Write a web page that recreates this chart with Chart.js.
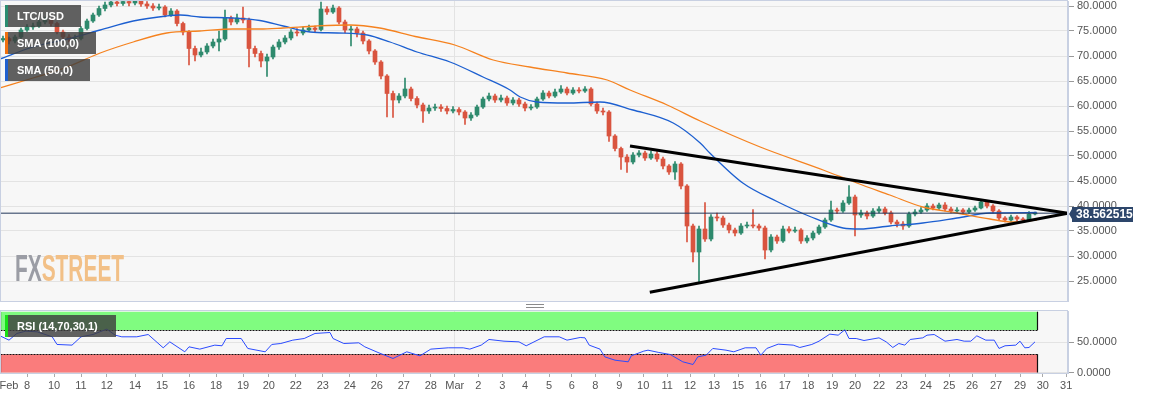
<!DOCTYPE html>
<html>
<head>
<meta charset="utf-8">
<script src="https://cdn.jsdelivr.net/npm/chart.js@4.4.1/dist/chart.umd.min.js"></script>
<style>
body{margin:0;background:#fff;}
#wrap{position:relative;width:1153px;height:399px;overflow:hidden;font-family:'Liberation Sans',Arial,sans-serif;}
#mainBox{position:absolute;left:0;top:0;width:1153px;height:302px;}
#rsiBox{position:absolute;left:0;top:303px;width:1153px;height:96px;}
.tag{position:absolute;left:5px;height:22px;line-height:22px;box-sizing:border-box;padding-left:9px;
  background:rgba(62,62,62,0.82);color:#fff;font-size:11px;font-weight:bold;border-left:3px solid #2a8c70;white-space:nowrap;}
.grip{position:absolute;left:526px;top:304px;width:18px;height:2px;border-top:1px solid #8a8a8a;border-bottom:1px solid #8a8a8a;}
.mark{position:absolute;left:15px;top:251px;font-size:36px;line-height:36px;font-weight:bold;
  transform:scaleX(0.58);transform-origin:left top;white-space:nowrap;}
.mark .fx{color:#9b9da5;}
.mark .st{color:#f2c087;}
</style>
</head>
<body>
<div id="wrap">
  <div id="mainBox"><canvas id="graf1" width="1153" height="302"></canvas></div>
  <div class="grip"></div>
  <div id="rsiBox"><canvas id="graf2" width="1153" height="96"></canvas></div>
  <div class="tag" style="top:5px;width:76px;border-left-color:#2a8c70">LTC/USD</div>
  <div class="tag" style="top:32px;width:91px;border-left-color:#f07010">SMA (100,0)</div>
  <div class="tag" style="top:59px;width:85px;border-left-color:#1f5fcf">SMA (50,0)</div>
  <div class="tag" style="top:315px;width:111px;border-left-color:#18e018">RSI (14,70,30,1)</div>
  <div class="mark"><span class="fx">FX</span><span class="st">STREET</span></div>
</div>
<script>
// candles (one per slot, left to right)
const candleOpen = [
 73.2,73.5,73.0,73.8,75.2,75.8,76.0,76.8,77.2,76.5,
 74.8,73.8,73.4,73.5,75.5,77.0,78.2,79.5,80.2,80.8,
 80.5,80.9,80.6,81.0,80.4,80.0,79.6,79.8,78.2,79.0,
 76.5,74.8,71.5,70.2,70.8,72.0,72.8,73.4,77.6,76.8,
 77.6,77.2,71.5,70.5,69.0,69.8,71.8,72.8,73.6,74.8,
 74.6,75.2,75.6,75.3,79.4,78.8,79.6,76.8,75.2,75.4,
 74.6,73.0,71.0,68.8,66.0,62.5,61.2,62.0,63.4,61.5,
 60.2,59.0,59.6,59.8,59.5,59.0,59.3,58.8,57.6,58.2,
 59.8,61.4,62.0,61.2,61.6,60.6,61.2,60.4,59.6,59.8,
 61.4,62.6,62.0,62.8,63.4,62.6,63.2,63.0,63.4,60.4,
 59.0,58.8,54.0,51.5,49.8,48.8,50.2,50.6,49.6,50.4,
 49.4,48.0,46.8,48.4,44.0,36.0,30.8,35.4,33.4,37.8,
 37.6,36.2,35.2,34.6,36.0,36.2,36.0,35.6,31.2,33.8,
 33.0,35.4,35.0,35.2,33.0,33.6,34.6,35.8,37.2,39.2,
 39.0,40.6,41.8,38.2,38.6,38.0,39.0,39.4,38.6,36.8,
 36.4,36.0,38.4,38.8,39.2,40.0,39.6,40.2,39.4,39.0,
 39.2,38.8,39.2,39.6,40.8,40.0,39.0,37.6,37.2,37.8,
 37.4,37.2,38.4];
const candleHigh = [
 74.0,73.8,74.2,75.6,76.3,76.6,77.2,77.8,77.5,76.8,
 75.2,74.3,74.2,75.9,77.4,78.6,80.0,80.8,81.4,81.3,
 81.5,81.3,81.6,81.4,80.9,80.5,80.4,80.1,79.5,79.3,
 76.8,75.1,72.0,71.6,72.5,73.4,75.0,79.2,78.0,78.4,
 79.8,77.6,72.0,71.0,70.4,72.2,73.3,74.1,75.3,75.5,
 75.8,76.2,76.0,80.8,79.9,80.2,79.9,77.2,76.0,75.8,
 75.0,73.3,71.3,69.1,66.3,63.0,62.5,65.6,63.8,61.9,
 60.6,60.2,60.4,60.3,60.0,59.9,59.7,59.1,58.7,60.2,
 61.8,62.6,62.4,62.2,62.0,61.7,61.6,60.8,60.3,61.8,
 63.1,63.0,63.4,64.1,63.8,63.7,63.7,63.9,63.7,60.8,
 59.6,59.1,54.3,51.8,50.3,50.7,51.1,51.0,51.0,50.9,
 49.8,48.3,48.9,48.7,44.3,36.4,36.0,40.7,38.3,38.6,
 38.0,36.6,35.6,36.5,36.8,39.3,36.4,36.0,34.3,34.2,
 36.0,35.9,35.8,35.5,34.1,35.0,36.2,37.6,41.0,39.6,
 41.1,44.1,42.2,39.2,39.0,39.5,39.9,39.8,39.0,37.2,
 36.9,38.8,39.3,39.7,40.5,40.4,40.6,40.7,39.8,39.7,
 39.5,39.6,40.0,41.3,41.0,40.3,39.3,37.9,38.2,38.1,
 37.7,38.9,38.8];
const candleLow = [
 72.8,72.4,72.6,73.5,74.9,75.3,75.7,76.4,76.0,74.4,
 73.3,72.8,72.9,73.2,75.2,76.7,77.9,79.0,79.8,80.0,
 80.1,80.0,80.2,79.9,79.5,79.1,79.2,77.8,77.9,76.0,
 74.2,68.2,69.0,69.8,70.4,71.6,71.0,73.1,76.2,76.4,
 76.6,67.8,69.8,67.8,65.9,69.4,71.3,72.4,73.2,74.0,
 74.2,74.9,74.8,75.0,78.3,78.5,76.4,74.6,72.0,73.8,
 72.4,70.4,68.3,65.4,57.8,57.7,60.6,61.6,61.0,59.6,
 56.7,58.5,59.1,58.9,58.4,58.6,58.2,56.3,57.1,57.9,
 59.5,61.0,60.7,60.8,60.1,60.2,59.9,59.0,59.2,59.5,
 61.1,61.6,61.7,62.5,62.2,62.3,62.6,62.7,60.0,58.5,
 58.2,52.9,51.0,47.3,46.7,48.4,49.8,49.1,49.3,48.9,
 47.4,46.3,45.3,43.4,32.8,28.8,24.8,32.9,33.0,37.0,
 35.7,34.6,34.0,34.3,35.6,35.6,35.1,29.4,30.8,32.5,
 32.7,34.6,34.7,32.5,32.6,33.2,34.3,35.5,36.9,38.5,
 38.7,40.3,34.0,37.7,37.4,37.7,38.6,38.2,36.4,35.8,
 35.3,35.7,38.0,38.5,38.9,39.2,39.3,39.0,38.6,38.7,
 38.4,38.5,38.9,39.4,39.6,38.6,37.2,36.8,36.9,37.0,
 36.8,37.0,38.2];
const candleClose = [
 73.5,73.0,73.8,75.2,75.8,76.0,76.8,77.2,76.5,74.8,
 73.8,73.4,73.5,75.5,77.0,78.2,79.5,80.2,80.8,80.5,
 80.9,80.6,81.0,80.4,80.0,79.6,79.8,78.2,79.0,76.5,
 74.8,71.5,70.2,70.8,72.0,72.8,73.4,77.6,76.8,77.6,
 77.2,71.5,70.5,69.0,69.8,71.8,72.8,73.6,74.8,74.6,
 75.2,75.6,75.3,79.4,78.8,79.6,76.8,75.2,75.4,74.6,
 73.0,71.0,68.8,66.0,62.5,61.2,62.0,63.4,61.5,60.2,
 59.0,59.6,59.8,59.5,59.0,59.3,58.8,57.6,58.2,59.8,
 61.4,62.0,61.2,61.6,60.6,61.2,60.4,59.6,59.8,61.4,
 62.6,62.0,62.8,63.4,62.6,63.2,63.0,63.4,60.4,59.0,
 58.8,54.0,51.5,49.8,48.8,50.2,50.6,49.6,50.4,49.4,
 48.0,46.8,48.4,44.0,36.0,30.8,35.4,33.4,37.8,37.6,
 36.2,35.2,34.6,36.0,36.2,36.0,35.6,31.2,33.8,33.0,
 35.4,35.0,35.2,33.0,33.6,34.6,35.8,37.2,39.2,39.0,
 40.6,41.8,38.2,38.6,38.0,39.0,39.4,38.6,36.8,36.4,
 36.0,38.4,38.8,39.2,40.0,39.6,40.2,39.4,39.0,39.2,
 38.8,39.2,39.6,40.8,40.0,39.0,37.6,37.2,37.8,37.4,
 37.2,38.4,38.56];
const lastPrice = 38.562515;

// moving averages (slot, value)
const sma100X = [-0.5,5,10.7,16.2,21.7,27.3,32.8,38.3,42.8,46.7,52.3,57.8,62.8,68.7,75.3,81.7,87.8,94,100.7,104.5,110.7,116.2,126.2,136.7,142.3,147.8,153.3,159,164.5,168.3,172.3];
const sma100Val = [63.6,65.6,67.8,70.6,72.8,74.6,75.0,75.4,75.4,75.6,76.0,76.2,75.6,73.9,72.2,69.2,67.8,66.6,65.2,63.2,60.2,57.0,51.8,47.2,44.6,42.2,39.8,38.6,37.4,36.8,37.2];
const sma50X = [-0.5,5,10.7,16.2,21.7,27.3,29.5,32.8,38.3,42.8,46.7,51.2,55.7,60.7,64.5,69,74.5,80,84.5,86.2,89,94,99.5,105,111.7,116.2,117.8,123.3,129,134.5,140,142.8,147.8,153.3,159,164.5,172.3];
const sma50Val = [69.4,71.8,73.4,75.2,77.0,78.0,78.2,77.8,77.6,77.1,76.0,74.8,74.6,74.2,72.8,70.8,68.8,65.8,63.2,61.8,60.8,60.6,60.8,59.2,56.6,52.6,50.6,44.6,40.9,37.9,35.6,35.4,36.0,36.6,37.6,38.6,38.7];

// triangle trend lines
const trendUpperX = [104.5,177.5];
const trendUpperY = [52.0,38.56];
const trendLowerX = [107.8,177.5];
const trendLowerY = [22.75,38.56];

// RSI (slot, value)
const rsiX = [-0.5,1,2.3,3.8,5.7,8.2,9,11.5,13,15,
 17.3,18.7,19.8,22.3,24.2,26.7,27.8,30.3,31,32.8,
 35.3,36.5,37.2,39.7,40.8,43.7,44.8,46.3,48.3,50.2,
 52,54.5,55,56.8,59.3,60.3,62.5,65,67.3,69.5,
 71.3,74.2,76.7,77.8,79.7,81,83.5,86,87.2,90.2,
 92.7,94,96.2,97,97.7,99.5,100.3,102,104.2,104.7,
 106.8,107.5,109.3,111.2,113.3,115,115.8,117.2,118.3,120.5,
 121.8,123.7,125.5,126.3,127.3,129.2,131.7,132.8,134.8,136,
 137.8,139.2,140.3,141,142.2,143.5,146,147.2,148.3,149.3,
 150.3,151.2,153.3,154,155.2,157,159,160.2,161.3,162.3,
 163.8,165.2,166,167,168.8,169.5,170.3,171,172];
const rsiVal = [60.4,53.3,64.3,68.1,67,58.8,46.2,45.1,58.8,62.6,
 71.4,61.5,58.8,58.8,62.6,40.7,50.5,34.1,42.3,38.5,
 45.1,44,56,56,39.6,34.1,46.2,47.8,53.3,56,
 64.3,65.9,56,47.8,48.9,42.3,33,23.1,34.1,27.5,
 38.5,40.7,40.7,38.5,45.1,54.4,51.6,50.5,44,58.8,
 58.8,53.3,57.7,57.1,45.1,38.5,25.8,20.3,17.6,27.5,
 35.2,36.8,33,29.7,17.6,13.2,25.8,28.6,39.6,36.8,
 34.1,40.7,40.7,28.6,39.6,46.7,45.1,41.2,46.2,51.6,
 63.2,61.5,70.3,56,56,52.7,57.1,50.5,41.2,47.8,
 45.1,54.4,57.1,61.5,62.6,51.6,54.4,51.6,51.6,60.4,
 53.3,53.3,39.6,44,45.1,51.6,40.7,41.2,50.5];
const rsiHigh = [70,100];
const rsiLow = [0,30];

// axes
const priceTicks = [25,30,35,40,45,50,55,60,65,70,75,80];
const rsiTicks = [0,50];
const dateTickPos = [1.0,4.0,8.5,13,17.3,22,26.5,31,35.5,40,44.3,48.8,53.3,57.8,62.3,66.8,71.3,
 75.3,79.2,83.2,87,91,94.8,98.7,102.7,106.7,110.7,114.5,118.5,122.5,126.3,130.3,134.2,138.2,142,
 146,149.8,153.8,157.7,161.5,165.5,169.5,173.3,177.2];
const dateTickText = ['Feb','8','10','11','12','14','15','16','18','19','20','22','23','24','26','27','28',
 'Mar','2','3','4','5','6','8','9','10','11','12','13','15','16','17','18','19','20',
 '22','23','24','25','26','27','29','30','31'];

const COR = {up:'#2e8a6d', down:'#d9543f', sma100:'#f5821f', sma50:'#1c5fd0', rsi:'#2b4bff',
    borda:'#c8d0e2', fundo:'#f7f7f7', grade:'#e3e3e3', preco:'#22375a', caixa:'#2d466b',
    verde:'#80fc80', vermelho:'#fa7c7c'};
const X_MIN = -0.5, X_MAX = 177.5;
const marPos = dateTickPos[dateTickText.indexOf('Mar')];

Chart.defaults.font.family = "'Liberation Sans', Arial, sans-serif";
Chart.defaults.font.size = 11;
Chart.defaults.color = '#555';

function pts(xs, ys){ return xs.map((x,i) => ({x:x, y:ys[i]})); }

const painel = {
    id:'painel',
    beforeDraw(chart){
        let a = chart.chartArea, c = chart.ctx;
        c.save(); c.fillStyle = COR.fundo; c.fillRect(a.left, a.top, a.right-a.left, a.bottom-a.top); c.restore();
    },
    afterDraw(chart){
        let a = chart.chartArea, c = chart.ctx;
        c.save(); c.strokeStyle = COR.borda; c.lineWidth = 1;
        c.strokeRect(a.left+0.5, a.top-0.5, a.right-a.left-1, a.bottom-a.top+1);
        c.restore();
    }
};

const caixaPreco = {
    id:'caixaPreco',
    afterDraw(chart){
        let c = chart.ctx, a = chart.chartArea;
        let y = Math.round(chart.scales.y.getPixelForValue(lastPrice));
        let x0 = a.right + 4;
        c.save();
        c.fillStyle = COR.caixa;
        c.beginPath(); c.moveTo(a.right+1, y+1); c.lineTo(x0, y-4); c.lineTo(x0, y+6); c.closePath(); c.fill();
        c.fillRect(x0, y-6, 61, 15);
        c.fillStyle = '#fff'; c.font = "bold 12px 'Liberation Sans', Arial, sans-serif";
        c.textBaseline = 'middle'; c.textAlign = 'left';
        c.fillText(lastPrice.toFixed(6), x0+4, y+2);
        c.restore();
    }
};

const faixasRsi = {
    id:'faixasRsi',
    beforeDatasetsDraw(chart){
        let c = chart.ctx, a = chart.chartArea, xs = chart.scales.x, ys = chart.scales.y;
        let xl = a.left + 0.5;
        let xr = Math.round(xs.getPixelForValue(candleClose.length - 1)) + 2.5;
        let faixa = (v, cor, linhaEm) => {
            let yt = ys.getPixelForValue(v[1]), yb = ys.getPixelForValue(v[0]);
            c.fillStyle = cor; c.fillRect(xl, yt, xr-xl, yb-yt);
            c.strokeStyle = '#111'; c.lineWidth = 1.2; c.setLineDash([]);
            c.beginPath(); c.moveTo(xl, yt); c.lineTo(xl, yb); c.moveTo(xr, yt); c.lineTo(xr, yb); c.stroke();
            let yl = Math.round(ys.getPixelForValue(linhaEm)) + 0.5;
            c.lineWidth = 1; c.setLineDash([2,1]);
            c.beginPath(); c.moveTo(xl, yl); c.lineTo(xr, yl); c.stroke();
        };
        c.save();
        faixa(rsiHigh, COR.verde, rsiHigh[0]);
        faixa(rsiLow, COR.vermelho, rsiLow[1]);
        c.restore();
    }
};

function chartPreco(){
    let ctx = document.getElementById('graf1');
    let cores = candleClose.map((v,i) => v >= candleOpen[i] ? COR.up : COR.down);
    let config = {
        type:'line',
        data:{
            datasets:[
                {type:'line', data:pts([X_MIN, X_MAX],[lastPrice,lastPrice]), borderColor:COR.preco, borderWidth:1, pointRadius:0, order:2},
                {type:'line', data:pts(trendUpperX,trendUpperY), borderColor:'#000', borderWidth:3, pointRadius:0, order:1},
                {type:'line', data:pts(trendLowerX,trendLowerY), borderColor:'#000', borderWidth:3, pointRadius:0, order:1},
                {type:'line', data:pts(sma100X,sma100Val), borderColor:COR.sma100, borderWidth:1.3, pointRadius:0, cubicInterpolationMode:'monotone', order:3},
                {type:'line', data:pts(sma50X,sma50Val), borderColor:COR.sma50, borderWidth:1.3, pointRadius:0, cubicInterpolationMode:'monotone', order:3},
                {type:'bar', data:candleLow.map((l,i) => ({x:i, y:[l, candleHigh[i]]})), backgroundColor:cores,
                    barThickness:1, grouped:false, order:6},
                {type:'bar', data:candleOpen.map((o,i) => ({x:i, y:[o, candleClose[i]]})), backgroundColor:cores,
                    barThickness:4, minBarLength:1, grouped:false, order:5}
            ]
        },
        options:{
            responsive:false, devicePixelRatio:1, animation:false, events:[],
            layout:{padding:{top:1, bottom:1, left:0, right:0}},
            plugins:{legend:{display:false}, tooltip:{enabled:false}},
            scales:{
                x:{
                    type:'linear', min:X_MIN, max:X_MAX, offset:false,
                    afterBuildTicks:(ax) => { ax.ticks = [{value:marPos}]; },
                    ticks:{display:false},
                    grid:{color:COR.grade, drawTicks:false, offset:false},
                    border:{display:false},
                    afterFit:(s) => { s.height = 0; s.paddingLeft = 0; s.paddingRight = 0; }
                },
                y:{
                    position:'right', min:21, max:81,
                    afterBuildTicks:(ax) => { ax.ticks = priceTicks.map(v => ({value:v})); },
                    ticks:{callback:(v) => Number(v).toFixed(4), padding:3, color:'#555'},
                    grid:{color:COR.grade, tickLength:6, tickColor:'#999'},
                    border:{color:COR.borda},
                    afterFit:(s) => { s.width = 85; s.paddingTop = 0; s.paddingBottom = 0; }
                }
            }
        },
        plugins:[painel, caixaPreco]
    };
    new Chart(ctx, config);
}

function chartRsi(){
    let ctx = document.getElementById('graf2');
    let config = {
        type:'line',
        data:{
            datasets:[{
                data:pts(rsiX,rsiVal), borderColor:COR.rsi, borderWidth:1, pointRadius:0, tension:0
            }]
        },
        options:{
            responsive:false, devicePixelRatio:1, animation:false, events:[],
            layout:{padding:{top:8, bottom:0, left:0, right:0}},
            plugins:{legend:{display:false}, tooltip:{enabled:false}},
            scales:{
                x:{
                    type:'linear', min:X_MIN, max:X_MAX, offset:false,
                    afterBuildTicks:(ax) => { ax.ticks = dateTickPos.map(v => ({value:v})); },
                    ticks:{autoSkip:false, maxRotation:0, minRotation:0, padding:2, color:'#555',
                        callback:(v,i) => dateTickText[i]},
                    grid:{
                        color:(c) => c.tick && c.tick.value === marPos ? COR.grade : 'rgba(0,0,0,0)',
                        tickColor:(c) => c.index === 0 ? 'rgba(0,0,0,0)' : '#aaa',
                        tickLength:4, offset:false
                    },
                    border:{color:COR.borda},
                    afterFit:(s) => { s.height = 26; s.paddingLeft = 0; s.paddingRight = 0; }
                },
                y:{
                    position:'right', min:-0.8, max:101.3,
                    afterBuildTicks:(ax) => { ax.ticks = rsiTicks.map(v => ({value:v})); },
                    ticks:{callback:(v) => Number(v).toFixed(4), padding:3, color:'#555'},
                    grid:{color:COR.grade, tickLength:6, tickColor:'#999'},
                    border:{color:COR.borda},
                    afterFit:(s) => { s.width = 85; s.paddingTop = 0; s.paddingBottom = 0; }
                }
            }
        },
        plugins:[painel, faixasRsi]
    };
    new Chart(ctx, config);
}

chartPreco();
chartRsi();
</script>
</body>
</html>
